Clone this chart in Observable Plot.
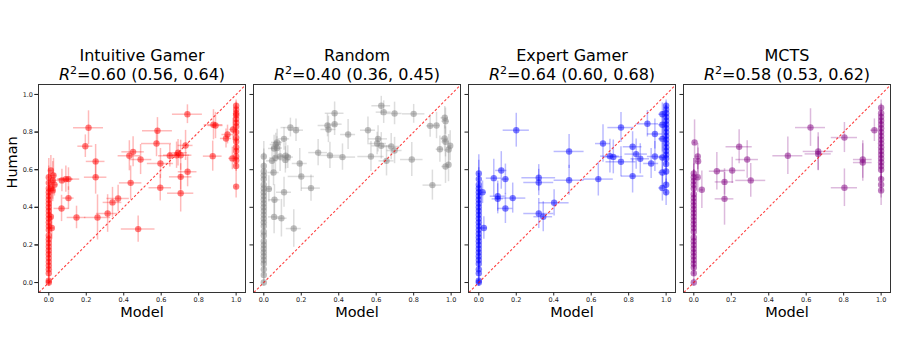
<!DOCTYPE html>
<html><head><meta charset="utf-8">
<script src="https://cdn.jsdelivr.net/npm/d3@7"></script>
<script src="https://cdn.jsdelivr.net/npm/@observablehq/plot@0.6"></script>
<style>html,body{margin:0;padding:0;background:#fff;}</style>
</head><body><div id="chart"></div>
<script>
const models = ["Intuitive Gamer", "Random", "Expert Gamer", "MCTS"];
const r2Labels = ["0.60 (0.56, 0.64)", "0.40 (0.36, 0.45)", "0.64 (0.60, 0.68)", "0.58 (0.53, 0.62)"];
const colors = ["#ff0000", "#808080", "#0000ff", "#800080"];
const xTicks = [0, 0.2, 0.4, 0.6, 0.8, 1.0];
const yTicks = [0, 0.2, 0.4, 0.6, 0.8, 1.0];
const diagonal = [-0.053, 1.05];

// scattered points: [model, human, modelErr, humanErr]
const intuitivePoints = [
  [0.212,0.823,0.08,0.09],[0.195,0.725,0.04,0.06],[0.25,0.644,0.05,0.09],[0.25,0.56,0.06,0.09],
  [0.26,0.346,0.07,0.12],[0.148,0.346,0.05,0.06],[0.068,0.394,0.04,0.07],[0.091,0.55,0.04,0.07],
  [0.105,0.55,0.06,0.06],[0.105,0.449,0.03,0.06],[0.07,0.543,0.04,0.06],[0.314,0.367,0.06,0.1],
  [0.34,0.426,0.05,0.08],[0.37,0.447,0.06,0.07],[0.43,0.674,0.06,0.08],[0.45,0.695,0.06,0.08],
  [0.49,0.654,0.06,0.08],[0.437,0.53,0.06,0.09],[0.477,0.284,0.09,0.07],[0.58,0.807,0.08,0.07],
  [0.575,0.739,0.08,0.07],[0.595,0.504,0.06,0.07],[0.596,0.633,0.07,0.08],[0.646,0.674,0.06,0.06],
  [0.682,0.677,0.07,0.07],[0.704,0.677,0.06,0.08],[0.69,0.69,0.05,0.07],[0.704,0.562,0.06,0.07],
  [0.704,0.475,0.07,0.1],[0.741,0.589,0.05,0.08],[0.74,0.895,0.08,0.05],[0.73,0.729,0.04,0.08],
  [0.875,0.672,0.05,0.08],[0.879,0.839,0.05,0.08],[0.89,0.835,0.04,0.07],[0.954,0.787,0.03,0.05],
  [0.946,0.766,0.03,0.05],[0.984,0.814,0.02,0.06],[0.98,0.66,0.02,0.06],
  [0.011,0.596,0.01,0.08],[0.025,0.57,0.015,0.09],[0.021,0.543,0.01,0.1],[0.011,0.5,0.01,0.08],
  [0.021,0.49,0.015,0.06],[0.011,0.35,0.008,0.07],[0.016,0.29,0.015,0.06],[0.03,0.52,0.02,0.06]
];
const intuitiveAtZero = [[0,0.02],[0.01,0.03],[0.05,0.04],[0.07,0.05],[0.09,0.06],[0.11,0.05],[0.13,0.07],
  [0.15,0.06],[0.17,0.08],[0.19,0.06],[0.21,0.07],[0.23,0.08],[0.25,0.06],[0.28,0.07],[0.3,0.09],[0.32,0.06],
  [0.34,0.08],[0.36,0.07],[0.38,0.09],[0.4,0.08],[0.42,0.07],[0.44,0.09],[0.46,0.08],[0.48,0.1],[0.5,0.08],
  [0.53,0.09],[0.56,0.1]];
const intuitiveAtOne = [[0.51,0.06],[0.62,0.05],[0.65,0.06],[0.67,0.05],[0.7,0.06],[0.72,0.05],[0.75,0.06],
  [0.77,0.05],[0.8,0.06],[0.83,0.05],[0.85,0.06],[0.87,0.05],[0.89,0.04],[0.9,0.05],[0.92,0.04],[0.94,0.03]];

const randomPoints = [
  [0.627,0.94,0.05,0.05],[0.64,0.906,0.04,0.06],[0.698,0.899,0.04,0.06],[0.8,0.897,0.06,0.05],
  [0.378,0.9,0.05,0.06],[0.378,0.842,0.04,0.06],[0.34,0.835,0.05,0.06],[0.345,0.814,0.04,0.07],
  [0.45,0.787,0.04,0.08],[0.142,0.824,0.05,0.05],[0.172,0.81,0.04,0.06],[0.108,0.764,0.03,0.06],
  [0.071,0.745,0.03,0.07],[0.064,0.734,0.03,0.06],[0.055,0.713,0.03,0.07],[0.07,0.715,0.03,0.06],
  [0.087,0.67,0.03,0.08],[0.062,0.663,0.03,0.07],[0.044,0.647,0.03,0.08],[0.117,0.674,0.03,0.07],
  [0.128,0.667,0.03,0.06],[0.115,0.652,0.03,0.07],[0.192,0.633,0.04,0.08],[0.29,0.691,0.05,0.07],
  [0.353,0.676,0.06,0.07],[0.42,0.667,0.07,0.07],[0.572,0.67,0.07,0.08],[0.556,0.81,0.04,0.07],
  [0.61,0.764,0.05,0.07],[0.605,0.739,0.05,0.06],[0.627,0.727,0.05,0.07],[0.68,0.723,0.05,0.07],
  [0.698,0.702,0.04,0.07],[0.655,0.647,0.04,0.08],[0.79,0.654,0.06,0.09],[0.2,0.564,0.07,0.08],
  [0.052,0.585,0.03,0.07],[0.252,0.502,0.05,0.07],[0.108,0.48,0.04,0.08],[0.057,0.44,0.03,0.08],
  [0.027,0.498,0.02,0.07],[0.055,0.349,0.03,0.09],[0.094,0.342,0.03,0.1],[0.16,0.287,0.04,0.1],
  [0.9,0.518,0.05,0.08],[0.888,0.833,0.02,0.06],[0.922,0.835,0.02,0.07],[0.966,0.876,0.02,0.06],
  [0.97,0.858,0.02,0.07],[0.965,0.766,0.02,0.07],[0.97,0.748,0.02,0.08],[0.94,0.709,0.02,0.07],
  [0.995,0.727,0.01,0.08],[0.987,0.707,0.01,0.08],[0.97,0.617,0.02,0.09],[0.986,0.626,0.01,0.09]
];
const randomAtZero = [[0,0.02],[0.04,0.04],[0.07,0.05],[0.1,0.06],[0.12,0.05],[0.14,0.07],[0.16,0.06],
  [0.18,0.08],[0.2,0.06],[0.22,0.07],[0.25,0.08],[0.27,0.06],[0.3,0.07],[0.32,0.09],[0.34,0.06],[0.36,0.08],
  [0.38,0.07],[0.4,0.09],[0.42,0.08],[0.44,0.07],[0.46,0.09],[0.48,0.08],[0.5,0.1],[0.52,0.08],[0.55,0.09],
  [0.57,0.08],[0.59,0.1],[0.62,0.09],[0.67,0.08]];
const randomAtOne = [];

const expertPoints = [
  [0.2,0.81,0.07,0.09],[0.482,0.697,0.08,0.09],[0.482,0.544,0.08,0.08],[0.32,0.557,0.09,0.07],
  [0.32,0.532,0.08,0.07],[0.32,0.367,0.08,0.08],[0.344,0.35,0.05,0.08],[0.402,0.424,0.08,0.07],
  [0.08,0.555,0.04,0.1],[0.12,0.596,0.03,0.1],[0.142,0.55,0.02,0.08],[0.101,0.459,0.04,0.08],
  [0.101,0.445,0.03,0.08],[0.142,0.394,0.04,0.08],[0.181,0.449,0.07,0.08],[0.02,0.48,0.02,0.06],
  [0.027,0.29,0.02,0.06],[0.638,0.55,0.08,0.09],[0.663,0.739,0.04,0.1],[0.7,0.672,0.05,0.09],
  [0.718,0.668,0.05,0.09],[0.759,0.824,0.07,0.08],[0.759,0.642,0.08,0.08],[0.821,0.722,0.05,0.08],
  [0.84,0.683,0.06,0.08],[0.862,0.658,0.05,0.08],[0.821,0.566,0.06,0.09],[0.9,0.844,0.06,0.07],
  [0.92,0.633,0.04,0.08],[0.94,0.79,0.04,0.08],[0.94,0.67,0.04,0.08],[0.98,0.665,0.02,0.08],
  [0.98,0.585,0.02,0.08],[0.98,0.503,0.02,0.07],[0.98,0.764,0.02,0.07],[0.98,0.839,0.02,0.07],
  [0.98,0.895,0.02,0.06]
];
const expertAtZero = [[0,0.02],[0.01,0.03],[0.05,0.04],[0.07,0.05],[0.1,0.06],[0.12,0.05],[0.14,0.07],
  [0.16,0.06],[0.18,0.08],[0.2,0.06],[0.22,0.07],[0.24,0.08],[0.26,0.06],[0.28,0.07],[0.3,0.09],[0.32,0.06],
  [0.34,0.08],[0.36,0.07],[0.38,0.09],[0.4,0.08],[0.42,0.07],[0.44,0.09],[0.46,0.08],[0.48,0.1],[0.5,0.08],
  [0.52,0.09],[0.55,0.1],[0.58,0.1]];
const expertAtOne = [[0.48,0.07],[0.52,0.06],[0.59,0.07],[0.63,0.06],[0.66,0.07],[0.68,0.06],[0.7,0.07],
  [0.72,0.06],[0.74,0.07],[0.76,0.06],[0.78,0.07],[0.8,0.06],[0.82,0.07],[0.84,0.06],[0.86,0.05],[0.88,0.06],
  [0.9,0.05],[0.92,0.04],[0.94,0.03]];

const mctsPoints = [
  [0.623,0.824,0.08,0.1],[0.804,0.771,0.07,0.08],[0.964,0.81,0.02,0.06],[0.242,0.722,0.07,0.09],
  [0.285,0.654,0.06,0.1],[0.502,0.674,0.08,0.1],[0.664,0.697,0.08,0.1],[0.664,0.684,0.07,0.09],
  [0.205,0.596,0.07,0.07],[0.123,0.592,0.04,0.1],[0.164,0.535,0.05,0.07],[0.304,0.543,0.08,0.09],
  [0.164,0.445,0.05,0.14],[0.902,0.654,0.05,0.1],[0.902,0.638,0.05,0.1],[0.804,0.504,0.07,0.1],
  [0.021,0.67,0.01,0.07],[0.023,0.645,0.01,0.07],[0.021,0.56,0.01,0.08],[0.043,0.493,0.01,0.1],
  [0.004,0.745,0.005,0.12]
];
const mctsAtZero = [[0,0.02],[0.05,0.04],[0.08,0.05],[0.1,0.06],[0.12,0.05],[0.14,0.07],[0.16,0.06],
  [0.18,0.08],[0.2,0.06],[0.22,0.07],[0.24,0.08],[0.27,0.06],[0.29,0.07],[0.31,0.09],[0.33,0.06],[0.35,0.08],
  [0.37,0.07],[0.39,0.09],[0.41,0.08],[0.43,0.07],[0.45,0.09],[0.47,0.08],[0.5,0.1],[0.52,0.08],[0.54,0.09],
  [0.56,0.1],[0.58,0.08]];
const mctsAtOne = [[0.49,0.08],[0.52,0.07],[0.55,0.07],[0.6,0.06],[0.62,0.07],[0.64,0.06],[0.66,0.07],
  [0.68,0.06],[0.7,0.07],[0.72,0.06],[0.74,0.07],[0.76,0.06],[0.78,0.05],[0.8,0.06],[0.82,0.05],[0.84,0.06],
  [0.86,0.05],[0.88,0.04],[0.9,0.05],[0.93,0.04]];

const pointSets = [intuitivePoints, randomPoints, expertPoints, mctsPoints];
const zeroSets = [intuitiveAtZero, randomAtZero, expertAtZero, mctsAtZero];
const oneSets = [intuitiveAtOne, randomAtOne, expertAtOne, mctsAtOne];

const data = [];
models.forEach((m, i) => {
  pointSets[i].forEach(([x, y, xe, ye]) => data.push({model: m, x, y, xe, ye}));
  zeroSets[i].forEach(([y, ye]) => data.push({model: m, x: 0, y, xe: 0.004, ye}));
  oneSets[i].forEach(([y, ye]) => data.push({model: m, x: 1, y, xe: 0.004, ye}));
});
const titles = models.map((m, i) => ({model: m, name: m, r2: "R2=" + r2Labels[i]}));
const diagData = models.map(m => ({model: m, a: diagonal[0], b: diagonal[1]}));

const font = "DejaVu Sans";
const chart = Plot.plot({
  width: 897, height: 359,
  marginLeft: 38, marginRight: 6, marginTop: 84, marginBottom: 67,
  style: {fontFamily: font, background: "#fff", color: "#222"},
  fx: {domain: models, paddingInner: 0.037, paddingOuter: 0, axis: null, label: null},
  x: {domain: [-0.055, 1.05], label: null},
  y: {domain: [-0.053, 1.053], label: null},
  color: {domain: models, range: colors},
  marks: [
    Plot.ruleY(data, {fx: "model", y: "y", x1: d => d.x - d.xe, x2: d => d.x + d.xe, stroke: "model", strokeOpacity: 0.27, strokeWidth: 1.5, clip: true}),
    Plot.ruleX(data, {fx: "model", x: "x", y1: d => d.y - d.ye, y2: d => d.y + d.ye, stroke: "model", strokeOpacity: 0.27, strokeWidth: 1.5, clip: true}),
    Plot.dot(data, {fx: "model", x: "x", y: "y", r: 3.2, fill: "model", fillOpacity: 0.5, stroke: "none"}),
    Plot.link(diagData, {fx: "model", x1: "a", y1: "a", x2: "b", y2: "b", stroke: () => "red", strokeOpacity: 0.75, strokeWidth: 1.1, strokeDasharray: "2.5,2"}),
    Plot.frame({stroke: "#333", strokeWidth: 1}),
    Plot.axisX({ticks: xTicks, tickFormat: d3.format(".1f"), tickSize: 3.5, tickPadding: 1.5, fontSize: 6.5, stroke: "#222", fill: "#222", label: null}),
    Plot.axisY({ticks: yTicks, tickFormat: () => "", tickSize: 3.5, facetAnchor: null, stroke: "#222", fill: "#222", label: null}),
    Plot.axisY({ticks: yTicks, tickFormat: d3.format(".1f"), tickSize: 3.5, tickPadding: 2, fontSize: 6.5, stroke: "#222", fill: "#222", label: null}),
    Plot.text(titles, {fx: "model", text: "name", frameAnchor: "top", dy: -29, lineAnchor: "middle", fontSize: 16, fill: "#000"}),
    Plot.text(titles, {fx: "model", text: "r2", frameAnchor: "top", dy: -10, lineAnchor: "middle", fontSize: 16, fill: "#000"}),
    Plot.text(titles, {fx: "model", text: () => "Model", frameAnchor: "bottom", dy: 19.5, lineAnchor: "middle", fontSize: 14.5, fill: "#000"}),
    Plot.text([titles[0]], {fx: "model", text: () => "Human", frameAnchor: "left", dx: -26, rotate: -90, lineAnchor: "middle", fontSize: 14.5, fill: "#000"})
  ]
});

d3.select(chart).selectAll("text").each(function () {
  const t = this.textContent;
  if (t.startsWith("R2=")) {
    const sel = d3.select(this);
    sel.text(null);
    sel.append("tspan").attr("font-style", "italic").text("R");
    sel.append("tspan").attr("dy", -6).attr("font-size", 11).text("2");
    sel.append("tspan").attr("dy", 6).text(t.slice(2));
  }
});
document.getElementById("chart").appendChild(chart);
</script>
</body></html>
